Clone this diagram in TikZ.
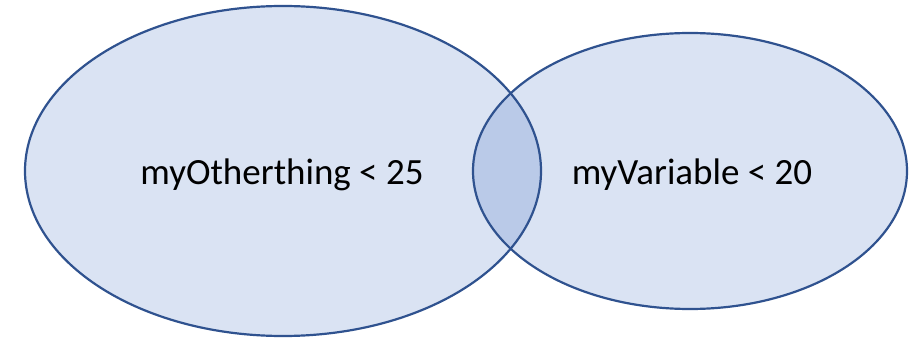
\documentclass[tikz,border=0pt]{standalone}
\usepackage{fontspec}
\setmainfont{Carlito}
\definecolor{setfill}{HTML}{DAE3F3}
\definecolor{lensfill}{HTML}{BACAE8}
\definecolor{setline}{HTML}{2F528F}
\begin{document}
\begin{tikzpicture}[x=1pt,y=-1pt,
  setedge/.style={draw=setline,line width=2.2pt},
  setlabel/.style={font=\fontsize{37}{44}\selectfont,text=black,inner sep=0pt}]
\useasboundingbox (0,0) rectangle (923,339);
% the two sets
\fill[setfill] (283,171) ellipse [x radius=258,y radius=165];
\fill[setfill] (690,171) ellipse [x radius=217,y radius=138];
% their intersection
\begin{scope}
  \clip (283,171) ellipse [x radius=258,y radius=165];
  \fill[lensfill] (690,171) ellipse [x radius=217,y radius=138];
\end{scope}
% outlines
\path[setedge] (283,171) ellipse [x radius=258,y radius=165];
\path[setedge] (690,171) ellipse [x radius=217,y radius=138];
% labels
\node[setlabel,anchor=base] (left) at (282,185) {myOtherthing < 25};
\node[setlabel,anchor=base] (right) at (692,185) {myVariable < 20};
\end{tikzpicture}
\end{document}
